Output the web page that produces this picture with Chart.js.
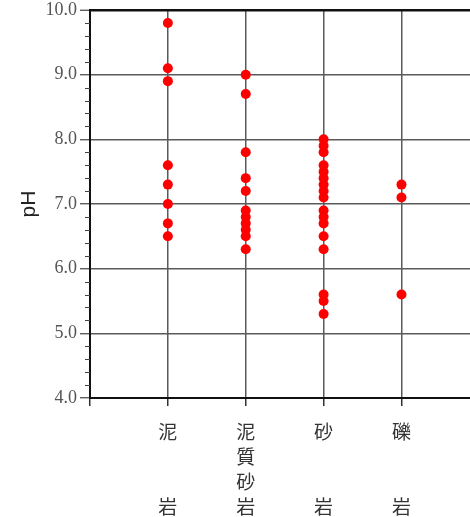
<!DOCTYPE html>
<html>
<head>
<meta charset="utf-8">
<script src="https://cdn.jsdelivr.net/npm/chart.js@4"></script>
<style>
  html, body { margin: 0; padding: 0; background: #fff; }
  #wrap { width: 470px; height: 517px; }
</style>
</head>
<body>
<div id="wrap"><canvas id="myChart" width="470" height="517"></canvas></div>
<script>
// rock types, one label line per row (blank rows keep 岩 on the bottom line)
const categories = [
  ['泥', '', '', '岩'],
  ['泥', '質', '砂', '岩'],
  ['砂', '', '', '岩'],
  ['礫', '', '', '岩']
];
// pH readings per rock type
const mudstone = [9.8, 9.1, 8.9, 7.6, 7.3, 7.0, 6.7, 6.5];
const muddySandstone = [9.0, 8.7, 7.8, 7.4, 7.2, 6.9, 6.8, 6.7, 6.6, 6.5, 6.3];
const sandstone = [8.0, 7.9, 7.8, 7.6, 7.5, 7.4, 7.3, 7.2, 7.1, 6.9, 6.8, 6.7, 6.5, 6.3, 5.6, 5.5, 5.3];
const conglomerate = [7.3, 7.1, 5.6];
const yTicks = [4, 5, 6, 7, 8, 9, 10];

const groups = [mudstone, muddySandstone, sandstone, conglomerate];
const points = [];
groups.forEach((vals, i) => vals.forEach(v => points.push({ x: i + 1, y: v })));

// small ticks every 0.2 on the pH axis
const minorTicks = {
  id: 'minorTicks',
  afterDraw(chart) {
    const y = chart.scales.y;
    const ctx = chart.ctx;
    const left = chart.chartArea.left;
    ctx.save();
    ctx.strokeStyle = '#444';
    ctx.lineWidth = 1;
    for (let k = 0; k <= 30; k++) {
      if (k % 5 === 0) continue;
      const py = Math.round(y.getPixelForValue(4 + k * 0.2)) + 0.5;
      ctx.beginPath();
      ctx.moveTo(left - 5, py);
      ctx.lineTo(left, py);
      ctx.stroke();
    }
    ctx.restore();
  }
};

new Chart(document.getElementById('myChart'), {
  type: 'scatter',
  data: {
    datasets: [{
      data: points,
      backgroundColor: '#ff0000',
      borderWidth: 0,
      pointRadius: 5,
      pointHoverRadius: 5
    }]
  },
  options: {
    responsive: false,
    animation: false,
    events: [],
    layout: { autoPadding: false, padding: { top: 10, right: 0, bottom: 0, left: 0 } },
    plugins: { legend: { display: false }, tooltip: { enabled: false } },
    scales: {
      x: {
        type: 'linear',
        min: 0,
        max: 4.88,
        afterFit: s => { s.height = 119; s.paddingLeft = 0; s.paddingRight = 0; },
        ticks: {
          stepSize: 1,
          includeBounds: false,
          autoSkip: false,
          maxRotation: 0,
          padding: 13,
          color: '#333',
          font: { family: '"Noto Sans CJK JP", sans-serif', size: 19, lineHeight: 25 / 19 },
          callback: v => categories[v - 1] || ''
        },
        grid: {
          color: '#5a5a5a',
          lineWidth: 1.5,
          tickLength: 8,
          tickColor: '#333',
          tickWidth: 1.5
        },
        border: { color: '#111', width: 2 }
      },
      y: {
        min: 4,
        max: 10,
        afterFit: s => { s.width = 90; s.paddingTop = 0; s.paddingBottom = 0; },
        afterBuildTicks: s => { s.ticks = yTicks.map(v => ({ value: v })); },
        ticks: {
          padding: 3,
          color: '#555',
          font: { family: '"Liberation Serif", serif', size: 18 },
          callback: v => v.toFixed(1)
        },
        grid: {
          color: c => c.tick && c.tick.value === 10 ? '#111' : '#5a5a5a',
          lineWidth: c => c.tick && c.tick.value === 10 ? 2.5 : 1.5,
          tickLength: 10,
          tickColor: '#444',
          tickWidth: 1.2
        },
        border: { color: '#111', width: 2 },
        title: {
          display: true,
          text: 'pH',
          color: '#222',
          padding: { top: 17, bottom: 0 },
          font: { family: '"Liberation Sans", Arial, sans-serif', size: 21 }
        }
      }
    }
  },
  plugins: [minorTicks]
});
</script>
</body>
</html>
